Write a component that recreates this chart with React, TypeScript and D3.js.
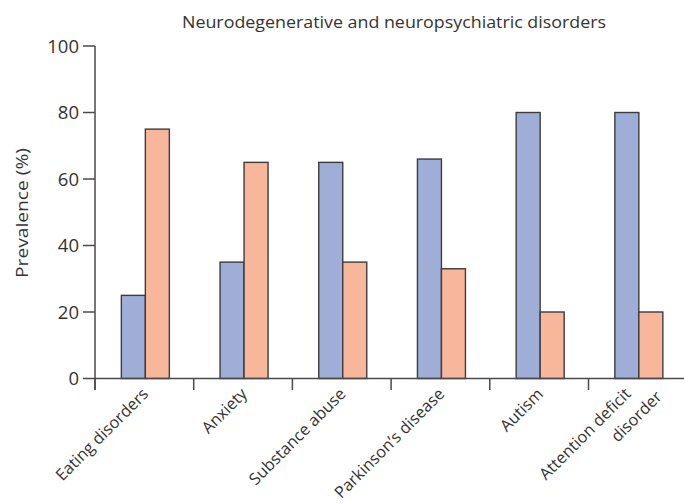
import React from "react";
import * as d3 from "d3";

const categories: string[][] = [
  ["Eating disorders"],
  ["Anxiety"],
  ["Substance abuse"],
  ["Parkinson’s disease"],
  ["Autism"],
  ["Attention deficit", "disorder"],
];
const seriesA: number[] = [25, 35, 65, 66, 80, 80];
const seriesB: number[] = [75, 65, 35, 33, 20, 20];
const yTicks: number[] = [0, 20, 40, 60, 80, 100];

const title = "Neurodegenerative and neuropsychiatric disorders";
const yLabel = "Prevalence (%)";

const W = 684;
const H = 504;
const FONT = "'Open Sans', 'Noto Sans', sans-serif";
const TEXT = "#333333";
const AXIS = "#4a4a4a";
const BLUE = "#9eaed6";
const ORANGE = "#f8b69b";
const STROKE = "#3c3c3c";

export default function App() {
  const keys = categories.map((c) => c.join(" "));
  const x = d3.scaleBand<string>().domain(keys).range([95, 95 + 6 * 98.7]).paddingInner(0).paddingOuter(0);
  const y = d3.scaleLinear().domain([0, 100]).range([378.5, 46]);
  const bw = x.bandwidth();
  const barW = 24;
  const x1 = d3
    .scaleBand<number>()
    .domain([0, 1])
    .range([bw / 2 - barW + 1, bw / 2 + barW + 1]);

  const y0 = y(0);
  const tickBounds = keys.map((k) => x(k) as number);

  return (
    <svg
      width={W}
      height={H}
      style={{ position: "absolute", left: 0, top: 0, background: "#fff" }}
      fontFamily={FONT}
    >
      <rect width={W} height={H} fill="#fff" />
      <text
        x={394}
        y={28}
        textAnchor="middle"
        fontSize={17}
        fill={TEXT}
        textLength={424}
        lengthAdjust="spacingAndGlyphs"
      >
        {title}
      </text>

      {/* bars */}
      {keys.map((k, i) => (
        <g key={k} transform={`translate(${x(k)},0)`}>
          {[seriesA[i], seriesB[i]].map((v, s) => (
            <rect
              key={s}
              x={x1(s)}
              y={y(v)}
              width={x1.bandwidth()}
              height={y0 - y(v)}
              fill={s === 0 ? BLUE : ORANGE}
              stroke={STROKE}
              strokeWidth={1.4}
            />
          ))}
        </g>
      ))}

      {/* y axis */}
      <line x1={95} x2={95} y1={y(100)} y2={390} stroke={AXIS} strokeWidth={1.5} />
      {yTicks.map((t) => (
        <g key={t}>
          <line x1={83} x2={95} y1={y(t)} y2={y(t)} stroke={AXIS} strokeWidth={1.5} />
          <text
            x={79}
            y={y(t)}
            dy="0.36em"
            textAnchor="end"
            fontSize={18.5}
            fill={TEXT}
          >
            {t}
          </text>
        </g>
      ))}
      <text
        transform={`translate(28,213) rotate(-90)`}
        textAnchor="middle"
        fontSize={16}
        fill={TEXT}
        textLength={130}
        lengthAdjust="spacingAndGlyphs"
      >
        {yLabel}
      </text>

      {/* x axis */}
      <line x1={95} x2={W} y1={y0} y2={y0} stroke={AXIS} strokeWidth={1.5} />
      {tickBounds.map((tx, i) => (
        <line key={i} x1={tx} x2={tx} y1={y0} y2={390} stroke={AXIS} strokeWidth={1.5} />
      ))}
      {categories.map((lines, i) => {
        const mid = (x(keys[i]) as number) + bw / 2;
        const ax = lines.length > 1 ? mid - 6 : mid + 5;
        return (
          <text
            key={i}
            transform={`translate(${ax},395) rotate(-45)`}
            textAnchor="end"
            fontSize={16.3}
            fill={TEXT}
          >
            {lines.map((ln, j) => (
              <tspan key={j} x={j * 20} y={j * 24}>
                {ln}
              </tspan>
            ))}
          </text>
        );
      })}
    </svg>
  );
}
